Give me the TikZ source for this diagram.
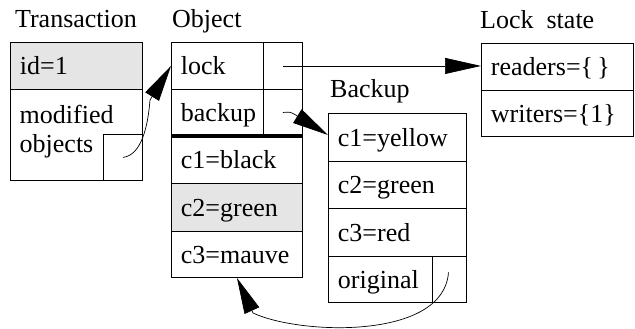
\documentclass[tikz,border=0pt]{standalone}
\usepackage{fontspec}
\setmainfont{Liberation Serif}
\usetikzlibrary{arrows.meta,calc}
\begin{document}
\begin{tikzpicture}[x=1pt,y=-1pt,
  every node/.style={font=\fontsize{26}{31}\selectfont},
  cell/.style={draw, line width=0.9pt, anchor=north west, inner xsep=9.5pt, inner ysep=0pt, text height=22pt, text depth=4pt, align=left},
  tcol/.style={minimum width=132pt, text width=113pt},
  ocol/.style={minimum width=131pt, text width=112pt},
  bcol/.style={minimum width=138pt, text width=119pt},
  lcol/.style={minimum width=152pt, text width=133pt},
  ptr/.style={draw, line width=0.9pt, anchor=north west, inner sep=0pt},
  hl/.style={fill=gray!20},
  title/.style={anchor=base west, inner sep=0pt},
  link/.style={draw, line width=0.7pt, -{Triangle[length=36pt,width=16pt]}},
]
\path[use as bounding box] (0,0) rectangle (635,329);

% Transaction
\node[anchor=base, inner sep=0pt] (ttrans) at (76,28) {Transaction};
\node[cell,tcol,hl,minimum height=47pt] (tid) at (10,42) {id=1};
\node[cell,tcol,minimum height=91pt] (tmod) at (10,89) {};
\node[title] (tmodA) at (19.5,123) {modified};
\node[title] (tmodB) at (19.5,152) {objects};
\node[ptr,minimum width=39pt,minimum height=46pt] (tptr) at (103,134) {};

% Object
\node[title] (tobj) at (172,28) {Object};
\node[cell,ocol,minimum height=47pt] (olock) at (171,42) {lock};
\node[ptr,minimum width=39pt,minimum height=47pt] (olockp) at (263,42) {};
\node[cell,ocol,minimum height=46pt] (obackup) at (171,89) {backup};
\node[ptr,minimum width=39pt,minimum height=46pt] (obackupp) at (263,89) {};
\node[cell,ocol,minimum height=48pt] (oc1) at (171,135) {c1=black};
\node[cell,ocol,hl,minimum height=48pt] (oc2) at (171,183) {c2=green};
\node[cell,ocol,minimum height=46pt] (oc3) at (171,231) {c3=mauve};
\draw[line width=3.5pt] (obackup.south west) -- (obackup.south east);

% Backup
\node[title] (tback) at (330,97) {Backup};
\node[cell,bcol,minimum height=48pt] (bc1) at (328,113) {c1=yellow};
\node[cell,bcol,minimum height=47pt] (bc2) at (328,161) {c2=green};
\node[cell,bcol,minimum height=48pt] (bc3) at (328,208) {c3=red};
\node[cell,bcol,minimum height=46pt] (borig) at (328,256) {original};
\node[ptr,minimum width=34pt,minimum height=46pt] (borigp) at (432,256) {};

% Lock state
\node[title] (tlock) at (480,29) {Lock\ \ state};
\node[cell,lcol,minimum height=47pt] (lr) at (481,43) {readers=\{\,\}};
\node[cell,lcol,minimum height=46pt] (lw) at (481,90) {writers=\{1\}};

% Connectors
\coordinate (tbend) at (150,100);
\draw[link] (tptr.center) .. controls (142,155) and (148,125) .. (tbend) -- (olock.west);

\draw[link] (olockp.center) -- (olockp.center -| lr.west);

\coordinate (bbend) at (294,114);
\coordinate (btip) at ($(bc1.north west)+(0,22)$);
\draw[link] (obackupp.center) .. controls (290,112) .. (bbend) -- (btip);

\coordinate (ostart) at ($(borigp.center)+(-1,-7)$);
\coordinate (obend) at (253,313);
\draw[link] (ostart) .. controls (444,340) and (300,335) .. (obend) -- (oc3.south);
\end{tikzpicture}
\end{document}
